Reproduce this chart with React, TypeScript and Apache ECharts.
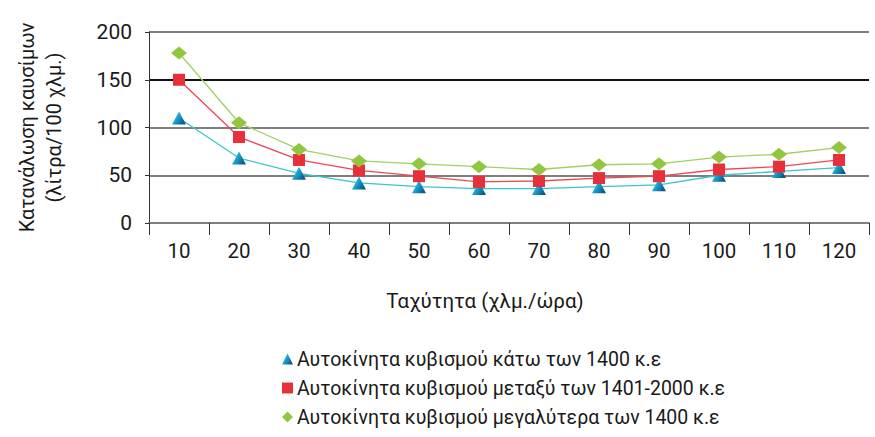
import React, { useEffect, useRef } from "react";
import * as echarts from "echarts";

const speeds = ["10", "20", "30", "40", "50", "60", "70", "80", "90", "100", "110", "120"];
const seriesNames = [
  "Αυτοκίνητα κυβισμού κάτω των 1400 κ.ε",
  "Αυτοκίνητα κυβισμού μεταξύ των 1401-2000 κ.ε",
  "Αυτοκίνητα κυβισμού μεγαλύτερα των 1400 κ.ε",
];
const small = [110, 68, 52, 42, 38, 36, 36, 38, 40, 50, 54, 58];
const medium = [150, 90, 66, 55, 49, 43, 44, 47, 49, 56, 59, 66];
const large = [178, 105, 77, 65, 62, 59, 56, 61, 62, 69, 72, 79];
const yTicks = [0, 50, 100, 150, 200];

const FONT = "Roboto";

export default function App() {
  const ref = useRef<HTMLDivElement>(null);
  useEffect(() => {
    if (!ref.current) return;
    const chart = echarts.init(ref.current, null, { renderer: "svg" });
    const triGrad = new echarts.graphic.LinearGradient(0, 0, 1, 0.6, [
      { offset: 0, color: "#74dcf6" },
      { offset: 0.5, color: "#1aa2d0" },
      { offset: 1, color: "#0a5a88" },
    ]);
    chart.setOption({
      animation: false,
      textStyle: { fontFamily: FONT },
      grid: { left: 149, right: 6, top: 32, bottom: 214, containLabel: false },
      legend: {
        orient: "vertical",
        left: 277,
        top: 344,
        itemWidth: 11,
        itemHeight: 11,
        itemGap: 9,
        textStyle: { fontSize: 19.5, color: "#1a1a1a", fontFamily: FONT, padding: [0, 0, 0, -1] },
        data: [
          { name: seriesNames[0], icon: "triangle", itemStyle: { color: triGrad } },
          { name: seriesNames[1], icon: "rect" },
          { name: seriesNames[2], icon: "diamond" },
        ],
      },
      xAxis: {
        type: "category",
        data: speeds,
        boundaryGap: true,
        name: "Ταχύτητα (χλμ./ώρα)",
        nameLocation: "middle",
        nameGap: 67,
        nameTextStyle: { fontSize: 20.5, color: "#1a1a1a", fontFamily: FONT, padding: [0, 48, 0, 0] },
        axisLine: { lineStyle: { color: "#7f7f7f", width: 2 } },
        axisTick: { show: true, length: 12, alignWithLabel: false, lineStyle: { color: "#333", width: 1 } },
        axisLabel: { fontSize: 20.5, color: "#1a1a1a", margin: 17, fontFamily: FONT },
        splitLine: { show: false },
      },
      yAxis: {
        type: "value",
        min: yTicks[0],
        max: yTicks[yTicks.length - 1],
        interval: 50,
        name: "Κατανάλωση καυσίμων\n(λίτρα/100 χλμ.)",
        nameLocation: "middle",
        nameRotate: 90,
        nameGap: 82,
        nameTextStyle: { fontSize: 20, color: "#1a1a1a", fontFamily: FONT, lineHeight: 27, align: "center" },
        axisLine: { show: true, lineStyle: { color: "#333", width: 1 } },
        axisTick: { show: true, length: 4, lineStyle: { color: "#333" } },
        axisLabel: { fontSize: 21, color: "#1a1a1a", margin: 17, fontFamily: FONT },
        splitLine: {
          show: true,
          lineStyle: { color: ["#7f7f7f", "#7f7f7f", "#7f7f7f", "#111111", "#7f7f7f"], width: 1.8 },
        },
      },
      series: [
        {
          name: seriesNames[0],
          type: "line",
          data: small,
          symbol: "triangle",
          symbolSize: [14, 13],
          lineStyle: { color: "#3cc4cc", width: 1.3 },
          itemStyle: { color: triGrad },
          z: 3,
        },
        {
          name: seriesNames[1],
          type: "line",
          data: medium,
          symbol: "rect",
          symbolSize: [12, 12],
          lineStyle: { color: "#f04654", width: 1.3 },
          itemStyle: { color: "#e8303c" },
          z: 4,
        },
        {
          name: seriesNames[2],
          type: "line",
          data: large,
          symbol: "diamond",
          symbolSize: [16, 13],
          lineStyle: { color: "#a2d064", width: 1.3 },
          itemStyle: { color: "#92c640" },
          z: 5,
        },
      ],
    });
    return () => chart.dispose();
  }, []);
  return <div ref={ref} style={{ width: 875, height: 437, position: "absolute", left: 0, top: 0 }} />;
}
